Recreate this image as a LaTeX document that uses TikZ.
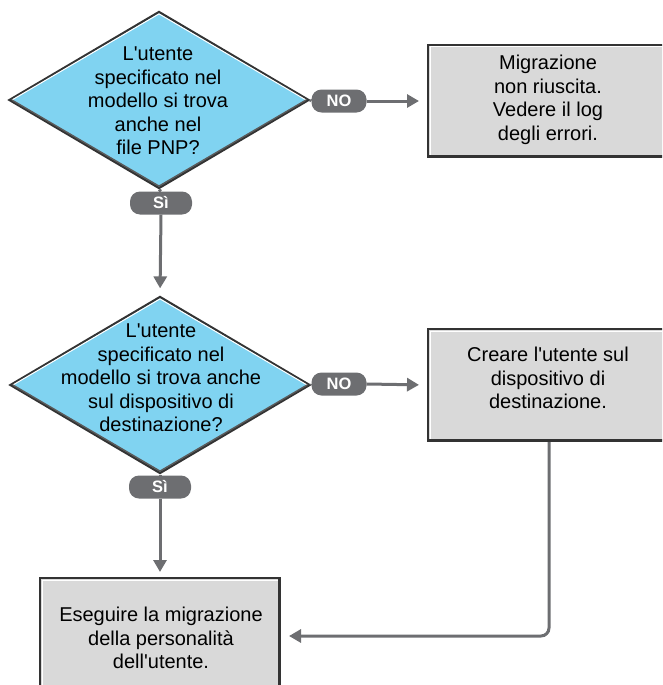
\documentclass[tikz,border=0pt]{standalone}
\usepackage{fontspec}
\setmainfont{Liberation Sans}[Ligatures=TeXOff]
\usetikzlibrary{shapes.geometric,arrows.meta}
\definecolor{questBlue}{RGB}{128,211,241}
\definecolor{boxGray}{RGB}{217,217,217}
\definecolor{pillGray}{RGB}{109,110,113}
\definecolor{edgeGray}{RGB}{51,51,51}
\begin{document}
\begin{tikzpicture}[x=1pt, y=-1pt, >={Triangle[width=13pt,length=12pt]},
    questStyle/.style={diamond, draw=edgeGray, line width=2.2pt, fill=questBlue, inner sep=0pt, minimum width=300pt, minimum height=177pt},
    boxStyle/.style={rectangle, draw=edgeGray, line width=2pt, fill=boxGray, inner sep=0pt, minimum width=240pt},
    textStyle/.style={align=center, inner sep=0pt, font=\fontsize{20}{23.6}\selectfont},
    pillStyle/.style={rectangle, rounded corners=10pt, fill=pillGray, text=white, inner sep=0pt, minimum width=55pt, minimum height=23pt, font=\fontsize{16.5}{16.5}\selectfont\bfseries},
    flowStyle/.style={draw=pillGray, line width=3pt}]
    \useasboundingbox (0,0) rectangle (662,685);
    \clip (0,0) rectangle (662,685);

    % questions
    \node[questStyle] (q1) at (159, 100) {};
    \node[questStyle] (q2) at (160, 385) {};
    \node[textStyle] (q1_text) at (158, 101) {L'utente\\specificato nel\\modello si trova\\anche nel\\file PNP?};
    \node[textStyle] (q2_text) at (161, 378) {L'utente\\specificato nel\\modello si trova anche\\sul dispositivo di\\destinazione?};

    % outcomes
    \node[boxStyle, minimum width=238pt, minimum height=112pt] (fail) at (547, 101) {};
    \node[boxStyle, minimum width=238pt, minimum height=112pt] (crea) at (547, 385) {};
    \node[boxStyle, minimum height=116pt] (migra) at (160, 636) {};
    \node[textStyle] (fail_text) at (548, 100) {Migrazione\\non riuscita.\\Vedere il log\\degli errori.};
    \node[textStyle] (crea_text) at (548, 378) {Creare l'utente sul\\dispositivo di\\destinazione.};
    \node[textStyle] (migra_text) at (161, 638) {Eseguire la migrazione\\della personalità\\dell'utente.};

    % bevel edges
    \foreach \q in {q1, q2} {
        \draw[white, line width=1pt] ([shift={(4,0)}]\q.west) -- ([shift={(0,3.5)}]\q.north) -- ([shift={(-4,0)}]\q.east);
        \draw[black!65, line width=1.4pt] ([shift={(4,0)}]\q.west) -- ([shift={(0,-3.5)}]\q.south) -- ([shift={(-4,0)}]\q.east);
    }
    \foreach \b in {fail, crea, migra} {
        \draw[white, line width=1pt] ([shift={(3,-3)}]\b.south west) -- ([shift={(3,3)}]\b.north west) -- ([shift={(-3,3)}]\b.north east);
        \draw[edgeGray, line width=1.6pt] ([shift={(-2.5,2)}]\b.north east) -- ([shift={(-2.5,-2.5)}]\b.south east) -- ([shift={(2,-2.5)}]\b.south west);
    }

    % answers
    \node[pillStyle] (no1) at (339, 101) {NO};
    \node[pillStyle] (no2) at (339, 384) {NO};
    \node[pillStyle, minimum width=62pt] (si1) at (161, 203) {Sì};
    \node[pillStyle, minimum width=62pt] (si2) at (160, 487) {Sì};

    \draw[flowStyle] (q1.east) -- (no1.west);
    \draw[flowStyle, ->, shorten >=8pt] (no1.east) -- (fail.west);
    \draw[flowStyle] (q2.east) -- (no2.west);
    \draw[flowStyle, ->, shorten >=8pt] (no2.east) -- (crea.west);
    \draw[flowStyle] (q1.south) -- (si1.north);
    \draw[flowStyle, ->, shorten >=7pt] (si1.south) -- (q2.north);
    \draw[flowStyle] (q2.south) -- (si2.north);
    \draw[flowStyle, ->, shorten >=5pt] (si2.south) -- (migra.north);
    \draw[flowStyle, ->, rounded corners=8pt, shorten >=8pt] ([xshift=2pt]crea.south) |- (migra.east);
\end{tikzpicture}
\end{document}
